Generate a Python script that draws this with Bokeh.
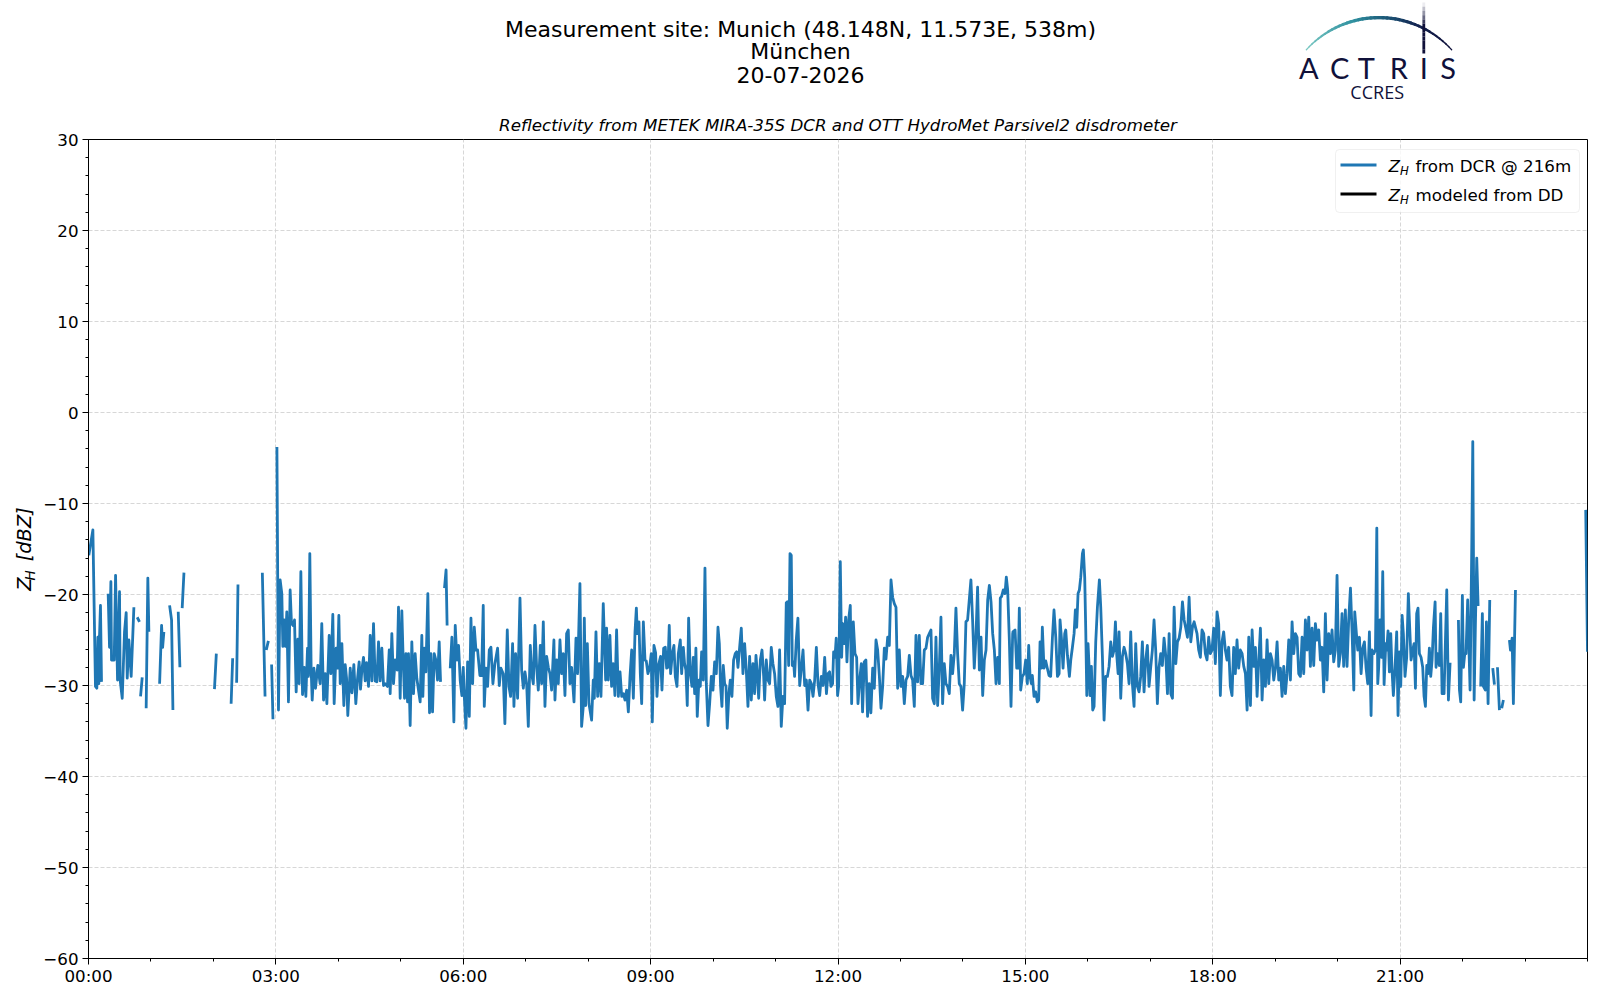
import math
from bokeh.plotting import figure
from bokeh.layouts import column, row
from bokeh.models import Range1d, FixedTicker, Label, BoxAnnotation, Arrow, ColumnDataSource, Title
from bokeh.core.properties import value
from bokeh.embed import file_html
from bokeh.resources import INLINE

# ---------------- data (minutes after 00:00 UTC, Z_H in dBZ; None = no data) -------------
dcr_0003 = [(0.3, -15.7), (4.2, -12.9), (6.7, -30.1), (8.0, -30.3), (9.0, -24.7), (9.9, -29.8),
            (10.6, -24.5), (11.5, -21.2), (12.5, -29.6), (15, None),
            (18.9, -19.9), (20.2, -25.8), (21.5, -18.6), (22.1, -27.2), (24.7, -27.2), (26.0, -17.9),
            (27.9, -29.4), (29.8, -19.7), (30.4, -29.4), (32.4, -31.4), (34.6, -24.1), (36.2, -22.0),
            (37.2, -29.2), (38.8, -25.0), (41.0, -29.0), (43.6, -21.4), (45, None),
            (46.8, -22.5), (49.0, -23.0), (49.5, None),
            (50.0, -31.2), (51.6, -29.1), (53, None),
            (55.4, -32.5), (57.0, -18.2), (58.0, -24.1), (60, None),
            (68.3, -29.8), (70.2, -23.4), (71.2, -25.8), (72.4, -24.1), (75, None),
            (77.9, -21.2), (79.8, -22.8), (81.1, -32.7), (84, None),
            (86.2, -21.9), (87.8, -28.0), (89, None),
            (90.0, -21.5), (91.7, -17.6), (100, None),
            (121.0, -30.4), (122.8, -26.5), (130, None),
            (137.0, -32.0), (138.5, -27.0), (140, None),
            (142.3, -29.7), (143.6, -18.9), (150, None),
            (167.0, -17.6), (169.6, -31.2), (170.2, None),
            (170.8, -26.1), (172.8, -25.1), (174, None),
            (175.9, -27.7), (177.2, -33.7), (179, None)]

dcr_0306 = [(181.0, -3.8), (182.5, -32.7), (184.1, -18.4), (185.7, -19.9), (186.7, -25.7), (188.0, -22.8),
            (189.2, -25.7), (190.5, -21.9), (192.1, -31.8), (193.7, -19.5), (195.0, -23.2), (196.6, -23.4),
            (197.9, -22.8), (199.5, -30.7), (201.1, -24.9), (202.4, -29.8), (204.0, -17.5), (205.6, -31.0),
            (207.2, -28.0), (208.8, -31.2), (210.4, -25.9), (211.3, -29.0), (212.6, -15.5), (213.9, -28.3),
            (214.9, -31.6), (216.5, -28.1), (218.1, -30.3), (220.3, -27.8), (222.5, -29.8), (224.1, -23.2),
            (225.8, -31.6), (227.4, -28.7), (229.0, -32.0), (231.2, -24.5), (232.8, -28.7), (234.7, -22.2),
            (236.0, -32.0), (237.9, -25.9), (239.2, -28.1), (240.5, -22.3), (241.8, -29.8), (243.4, -25.4),
            (245.3, -32.2), (246.6, -27.7), (247.9, -29.2), (249.1, -33.3), (251.4, -28.1), (253.0, -30.8),
            (254.9, -27.7), (256.8, -32.0), (258.4, -29.3), (260.0, -27.4), (261.3, -30.4), (262.6, -28.3),
            (264.2, -26.9), (265.8, -29.5), (267.1, -27.5), (269.0, -30.1), (270.6, -24.5), (272.2, -29.5),
            (273.8, -23.2), (275.4, -29.5), (277.0, -29.6), (278.6, -25.2), (280.2, -29.5), (281.8, -25.9),
            (283.4, -30.0), (285.0, -29.8), (287.2, -30.1), (288.9, -26.1), (289.8, -30.9), (291.4, -24.3),
            (293.0, -29.8), (294.6, -27.2), (296.5, -28.3), (297.8, -21.4), (299.4, -31.4), (301.0, -21.8),
            (302.3, -27.2), (303.6, -31.4), (304.9, -26.5), (306.5, -31.8), (307.4, -26.5), (309.0, -34.4),
            (310.6, -25.2), (312.2, -30.9), (313.8, -26.5), (315.4, -29.2), (318.6, -31.8), (320.2, -24.5),
            (321.2, -31.2), (322.5, -25.9), (324.1, -28.5), (326.0, -19.9), (327.6, -33.0), (328.9, -26.5),
            (330.5, -32.9), (332.1, -26.5), (333.7, -27.2), (335.3, -29.4), (336.9, -25.2), (338.2, -29.6),
            (340, None), (342.0, -19.3), (343.5, -17.3), (344.5, -23.4), (346, None),
            (347.5, -28.1), (349.1, -24.7), (351.0, -34.0), (352.3, -23.4), (353.9, -27.2), (355.5, -25.6),
            (357.1, -29.5), (358.7, -31.1)]

dcr_0609 = [(360.0, -28.0), (361.0, -31.2), (362.6, -34.7), (364.2, -27.4), (365.8, -33.4), (367.4, -22.6),
            (369.0, -29.8), (370.6, -23.6), (372.2, -26.1), (373.8, -26.1), (376.0, -28.9), (377.6, -28.9),
            (379.2, -21.2), (380.2, -32.3), (381.8, -28.1), (383.4, -30.1), (385.0, -26.1), (386.6, -25.8),
            (388.5, -29.8), (390.4, -27.6), (393.0, -25.9), (394.6, -30.0), (396.2, -28.1), (398.4, -28.7),
            (400.0, -34.2), (402.3, -23.9), (403.9, -30.1), (405.5, -31.2), (407.4, -25.4), (408.7, -32.3),
            (410.3, -26.5), (412.2, -31.4), (414.5, -20.4), (416.1, -28.3), (417.7, -30.3), (419.3, -28.5),
            (420.9, -29.8), (422.5, -34.5), (424.4, -25.6), (425.7, -28.7), (427.3, -29.8), (428.9, -23.4),
            (430.5, -28.0), (432.1, -30.5), (434.0, -25.6), (435.3, -29.8), (436.9, -23.0), (438.5, -32.3),
            (440.1, -26.8), (441.7, -28.0), (443.3, -28.7), (444.9, -30.5), (447.1, -25.0), (448.1, -31.6),
            (449.7, -27.2), (451.3, -29.8), (452.9, -25.0), (454.5, -28.7), (456.1, -26.5), (457.7, -31.1),
            (459.3, -24.3), (460.9, -23.9), (462.5, -29.8), (464.1, -28.0), (466.4, -31.8), (468.3, -24.8),
            (469.9, -28.7), (472.1, -18.8), (473.7, -34.5), (475.3, -32.3), (476.3, -22.6), (477.6, -32.2),
            (479.2, -25.4), (480.8, -32.0), (483.3, -33.8), (484.9, -29.4), (485.9, -31.4), (487.5, -24.1),
            (489.1, -31.2), (490.7, -27.6), (492.3, -31.2), (494.5, -21.0), (496.8, -29.4), (497.7, -23.7),
            (499.3, -29.4), (500.9, -24.5), (502.5, -30.1), (504.1, -27.6), (505.7, -31.1), (507.3, -23.9),
            (509.0, -31.2), (510.6, -28.5), (512.2, -31.2), (513.8, -30.9), (515.4, -31.6), (517.0, -30.5),
            (518.6, -32.9), (520.2, -29.0), (521.8, -26.1), (523.4, -31.4), (525.0, -24.1), (526.3, -21.5),
            (527.2, -24.3), (528.8, -23.0), (530.1, -28.7), (531.4, -32.0), (533.0, -23.0), (534.6, -27.2)]

dcr_0912 = [(535.8, -27.3), (537.4, -28.7), (539.0, -28.1), (540.6, -26.5), (541.6, -34.0), (543.2, -25.6),
            (544.8, -26.4), (546.1, -31.2), (547.7, -27.7), (549.6, -26.8), (550.9, -30.5), (552.5, -25.9),
            (554.1, -25.8), (555.4, -28.1), (556.6, -28.0), (557.9, -23.4), (559.2, -28.7), (560.8, -26.5),
            (562.4, -25.6), (563.7, -29.0), (565.3, -30.1), (566.6, -26.5), (568.5, -25.0), (569.8, -28.7),
            (571.4, -25.8), (572.6, -27.6), (573.9, -28.3), (575.2, -32.2), (576.5, -22.6), (578.1, -28.7),
            (579.7, -30.1), (581.0, -26.9), (582.3, -30.9), (583.5, -25.9), (584.8, -33.4), (586.4, -29.4),
            (587.7, -30.1), (589.0, -26.3), (590.6, -29.4), (592.2, -17.1), (593.5, -29.8), (595.1, -34.4),
            (596.7, -32.0), (598.3, -29.0), (599.9, -30.5), (601.5, -27.4), (603.1, -28.7), (604.7, -23.6),
            (606.0, -25.4), (607.2, -30.1), (608.5, -32.3), (609.8, -27.8), (611.1, -29.8), (612.4, -30.1),
            (613.6, -34.7), (615.2, -30.9), (616.5, -29.4), (618.1, -31.2), (619.7, -27.2), (621.3, -26.5),
            (622.6, -26.3), (623.9, -28.0), (625.5, -25.8), (627.1, -23.7), (628.7, -28.7), (630.3, -25.4),
            (631.9, -28.3), (633.5, -32.3), (635.1, -26.8), (636.7, -31.6), (638.3, -27.6), (639.9, -30.9),
            (641.2, -26.7), (642.5, -28.7), (643.8, -31.4), (645.4, -27.2), (647.0, -26.1), (648.6, -29.0),
            (649.5, -31.6), (651.1, -27.2), (652.7, -29.4), (654.3, -29.8), (655.9, -25.8), (657.5, -27.6),
            (659.1, -28.7), (660.7, -31.2), (662.3, -32.3), (663.9, -26.1), (665.5, -34.5), (667.1, -31.2),
            (668.7, -32.0), (670.3, -20.9), (671.3, -20.8), (672.6, -27.8), (673.9, -15.5), (675.1, -15.7),
            (676.1, -27.8), (677.4, -27.4), (678.3, -29.0), (679.9, -25.0), (681.5, -22.6), (683.2, -30.0),
            (684.8, -28.1), (686.4, -26.1), (688.0, -30.0), (689.6, -29.4), (691.2, -32.7), (692.8, -29.4),
            (694.4, -29.8), (696.0, -31.2), (697.6, -29.4), (699.2, -25.8), (700.8, -29.8), (702.4, -31.1),
            (704.0, -29.0), (705.6, -30.0), (707.2, -26.9), (708.9, -30.9), (710.4, -28.7)]

dcr_1215 = [(711.9, -28.5), (713.2, -30.1), (714.8, -29.8), (715.8, -26.3), (717.1, -26.9), (718.3, -24.8),
            (719.6, -31.1), (720.6, -30.1), (722.2, -16.4), (723.5, -26.9), (724.4, -23.2), (726.0, -25.4),
            (727.3, -22.5), (728.6, -27.4), (730.2, -22.8), (731.8, -21.2), (733.1, -32.0), (734.7, -23.0),
            (736.3, -26.5), (737.9, -26.9), (739.2, -32.0), (740.8, -29.4), (742.4, -27.6), (743.6, -32.9),
            (745.2, -27.4), (746.8, -27.2), (748.4, -33.4), (750.0, -29.8), (751.6, -33.0), (753.3, -28.1),
            (754.9, -30.3), (756.5, -25.0), (758.1, -26.1), (759.7, -28.9), (761.3, -32.5), (762.9, -30.1),
            (764.5, -25.9), (766.1, -27.1), (767.7, -24.7), (769.3, -25.6), (770.9, -18.4), (772.5, -20.3),
            (774.1, -21.0), (775.7, -21.4), (777.3, -30.3), (778.9, -26.1), (780.5, -30.1), (782.1, -29.0),
            (783.7, -32.0), (785.3, -29.4), (786.9, -29.0), (788.5, -26.7), (790.1, -28.9), (791.7, -29.4),
            (793.3, -32.3), (794.9, -24.5), (796.5, -29.6), (798.1, -24.5), (799.7, -29.8), (801.3, -29.8),
            (802.9, -26.1), (804.5, -25.9), (806.1, -24.7), (807.7, -24.3), (809.3, -23.9), (810.9, -31.4),
            (812.5, -32.0), (814.1, -24.7), (815.7, -32.2), (817.3, -28.1), (818.9, -22.5), (820.5, -32.0),
            (822.1, -27.6), (823.7, -29.8), (825.3, -30.1), (826.9, -30.9), (828.5, -26.7), (830.1, -28.7),
            (831.7, -26.5), (833.3, -21.5), (834.9, -26.5), (836.5, -29.8), (838.1, -30.1), (839.7, -32.7),
            (841.3, -29.8), (842.9, -23.0), (844.5, -22.8), (846.1, -20.6), (847.7, -18.4), (849.3, -22.8),
            (850.9, -28.1), (852.5, -24.7), (854.1, -19.2), (855.8, -28.3), (857.4, -24.7), (859.0, -31.1),
            (860.6, -27.2), (862.2, -26.1), (863.8, -20.6), (865.4, -19.0), (867.0, -20.8), (868.6, -24.3),
            (870.2, -26.1), (871.8, -29.8), (873.4, -26.9), (875.0, -29.8), (875.9, -20.4), (877.2, -20.2),
            (878.8, -19.5), (880.4, -19.9), (881.7, -18.1), (883.0, -19.5), (884.6, -25.0), (886.2, -32.3),
            (887.8, -24.3)]

dcr_1518 = [(888.1, -24.1), (890.1, -23.9), (891.7, -28.1), (893.0, -28.1), (894.2, -21.5), (895.5, -30.5),
            (897.1, -29.0), (898.7, -28.7), (900.3, -27.2), (901.9, -29.8), (903.2, -25.6), (904.5, -29.0),
            (905.8, -29.8), (906.7, -28.9), (908.3, -31.2), (909.9, -30.7), (911.5, -31.8), (912.8, -31.6),
            (914.1, -25.2), (915.4, -28.1), (916.3, -23.6), (917.9, -28.1), (919.5, -27.3), (921.1, -28.1),
            (922.7, -28.9), (924.3, -29.0), (926.0, -24.7), (927.5, -21.7), (929.2, -24.7), (930.8, -29.0),
            (932.4, -28.7), (933.3, -22.8), (934.6, -24.7), (936.2, -28.1), (937.8, -24.3), (938.8, -23.9),
            (940.4, -26.7), (942.3, -29.0), (943.6, -27.2), (945.2, -25.8), (946.8, -24.3), (948.0, -21.7),
            (949.3, -23.6), (950.6, -19.9), (951.9, -19.5), (953.2, -18.1), (954.8, -15.5), (955.7, -15.1),
            (957.0, -18.1), (958.0, -23.9), (959.0, -31.1), (960.2, -25.4), (961.2, -27.9), (962.1, -31.1),
            (963.4, -27.9), (964.7, -32.7), (966.0, -32.3), (967.6, -25.2), (969.2, -21.4), (971.1, -18.4),
            (972.4, -21.4), (974.0, -26.8), (975.6, -33.8), (977.2, -29.0), (978.8, -29.0), (980.4, -27.9),
            (982.0, -25.2), (983.6, -26.8), (985.2, -26.1), (986.5, -23.0), (987.8, -26.7), (989.1, -28.7),
            (990.0, -24.1), (991.6, -31.4), (993.2, -26.8), (994.8, -25.8), (996.4, -26.5), (998.0, -27.6),
            (999.6, -29.8), (1001.2, -24.1), (1002.8, -29.8), (1004.4, -32.3), (1006.0, -25.4), (1007.6, -30.1),
            (1009.2, -30.7), (1010.8, -29.0), (1012.4, -25.2), (1014.0, -30.7), (1015.6, -27.2), (1017.2, -25.6),
            (1018.8, -30.1), (1020.4, -28.0), (1022.0, -26.1), (1023.6, -22.8), (1025.2, -26.1), (1026.8, -32.0),
            (1028.4, -28.0), (1030.0, -26.5), (1031.6, -27.8), (1033.2, -24.8), (1034.9, -26.8), (1036.5, -30.9),
            (1038.1, -24.3), (1039.7, -30.9), (1041.3, -31.4), (1042.9, -21.4), (1044.5, -27.6), (1046.1, -25.2),
            (1047.7, -24.8), (1049.3, -23.6), (1050.9, -20.8), (1052.5, -22.8), (1054.1, -23.7), (1055.7, -24.7),
            (1057.3, -20.3), (1058.9, -25.2), (1060.5, -23.6), (1062.1, -23.0)]

dcr_1821 = [(1064.9, -24.3), (1066.5, -26.1), (1068.1, -26.9), (1069.7, -23.9), (1071.3, -24.3), (1072.9, -26.5),
            (1074.5, -27.2), (1076.1, -24.7), (1077.7, -26.5), (1079.3, -26.1), (1080.9, -23.7), (1082.5, -27.6),
            (1084.1, -21.9), (1085.7, -23.2), (1087.3, -31.1), (1088.9, -25.2), (1090.5, -24.1), (1092.1, -26.1),
            (1093.7, -27.2), (1095.3, -25.8), (1096.9, -30.1), (1098.5, -31.1), (1100.1, -25.8), (1101.7, -28.7),
            (1103.3, -25.0), (1104.9, -28.1), (1106.5, -26.1), (1108.2, -26.5), (1109.8, -27.9), (1111.4, -28.7),
            (1113.0, -32.7), (1114.6, -24.7), (1116.2, -32.2), (1117.8, -23.9), (1119.4, -27.9), (1121.0, -25.8),
            (1122.6, -31.2), (1124.2, -27.2), (1125.8, -23.7), (1127.4, -31.6), (1129.0, -27.2), (1130.6, -30.1),
            (1132.2, -25.0), (1133.8, -29.8), (1135.4, -26.5), (1137.0, -27.2), (1138.6, -29.4), (1140.2, -28.1),
            (1141.8, -25.2), (1143.4, -29.4), (1145.0, -28.1), (1146.6, -31.2), (1148.2, -27.9), (1149.8, -30.9),
            (1151.4, -28.7), (1153.0, -25.0), (1154.6, -29.4), (1156.2, -23.0), (1157.8, -26.5), (1159.4, -24.3),
            (1161.0, -24.7), (1162.6, -28.7), (1164.2, -29.0), (1165.8, -24.7), (1167.4, -28.7), (1169.0, -22.8),
            (1170.6, -26.1), (1172.2, -22.5), (1173.8, -27.9), (1175.4, -23.7), (1177.0, -27.8), (1178.6, -23.2),
            (1180.2, -25.0), (1181.8, -23.9), (1183.4, -27.2), (1185.0, -25.8), (1186.6, -30.7), (1188.2, -22.1),
            (1189.8, -29.4), (1191.4, -24.3), (1193.0, -26.5), (1194.6, -23.9), (1196.2, -27.4), (1197.8, -26.1),
            (1199.4, -17.9), (1201.0, -27.9), (1202.6, -26.5), (1204.2, -22.1), (1205.8, -27.9), (1207.4, -21.7),
            (1209.0, -27.9), (1210.6, -22.8), (1212.3, -19.3), (1213.9, -24.3), (1215.5, -30.5), (1216.4, -21.9),
            (1218.0, -24.3), (1219.3, -26.1), (1220.9, -24.7), (1222.5, -28.7), (1224.1, -25.9), (1225.7, -25.2),
            (1227.3, -28.1), (1228.9, -29.8), (1230.5, -24.1), (1232.1, -33.3), (1233.1, -26.1), (1234.7, -26.5),
            (1236.3, -26.1), (1237.6, -12.7), (1238.5, -29.8)]

dcr_2124 = [(1239.4, -28.0), (1240.7, -22.8), (1242.0, -26.9), (1243.3, -17.5), (1244.6, -29.9), (1246.2, -25.4),
            (1247.1, -26.1), (1248.4, -24.0), (1249.7, -28.5), (1251.0, -24.3), (1252.2, -28.3), (1253.5, -31.1),
            (1255.1, -28.1), (1256.7, -24.1), (1258.0, -33.3), (1259.3, -26.3), (1260.6, -30.1), (1261.9, -22.3),
            (1263.1, -24.3), (1264.7, -29.0), (1266.3, -26.9), (1267.9, -19.9), (1268.9, -22.8), (1270.5, -27.2),
            (1272.1, -26.1), (1273.4, -25.4), (1274.7, -30.3), (1275.9, -22.1), (1277.2, -21.5), (1278.5, -26.5),
            (1280.1, -26.9), (1281.7, -28.0), (1283.0, -31.2), (1284.3, -32.3), (1285.6, -27.8), (1286.8, -28.7),
            (1288.1, -25.9), (1289.4, -29.0), (1290.7, -27.2), (1292.0, -23.6), (1293.6, -20.8), (1294.5, -28.0),
            (1295.8, -26.5), (1297.7, -27.8), (1299.0, -22.1), (1300.3, -30.9), (1302.2, -30.9), (1304.8, -19.5),
            (1306.4, -31.6), (1308.0, -27.5), (1310, None),
            (1316.0, -22.8), (1317.0, -30.5), (1318.2, -31.8), (1319.8, -20.1), (1320.8, -28.0), (1322.1, -26.5),
            (1323.3, -26.5), (1324.9, -20.6), (1327.2, -30.5), (1328.8, -14.9), (1329.8, -3.2), (1330.4, -14.8),
            (1331.1, -31.6), (1332.3, -23.4), (1333.6, -16.0), (1334.9, -21.1), (1336.2, -21.1), (1336.8, None),
            (1337.4, -30.1), (1339.0, -22.1), (1340.0, -30.1), (1341.9, -30.5), (1342.9, -23.0), (1344.5, -32.0),
            (1346.1, -20.6), (1347, None),
            (1349.0, -28.1), (1350.6, -29.9), (1352, None),
            (1353.5, -28.0), (1355.4, -32.7), (1356.5, None),
            (1357.6, -32.5), (1359.2, -31.6), (1362, None),
            (1365.0, -25.0), (1366.0, -26.1), (1367.6, -24.8), (1368.8, -32.0), (1370.8, -19.5), (1380, None),
            (1438.3, -10.7), (1440.0, -26.3)]

# The disdrometer-modelled reflectivity has no values on this day
dd_minutes = []
dd_dbz = []

hour_ticks = [0, 3, 6, 9, 12, 15, 18, 21]
hour_labels = ["00:00", "03:00", "06:00", "09:00", "12:00", "15:00", "18:00", "21:00"]
dbz_ticks = [-60, -50, -40, -30, -20, -10, 0, 10, 20, 30]
dbz_labels = ["\u221260", "\u221250", "\u221240", "\u221230", "\u221220", "\u221210", "0", "10", "20", "30"]

title_lines = ["Measurement site: Munich (48.148N, 11.573E, 538m)", "M\u00fcnchen", "20-07-2026"]
subtitle = "Reflectivity from METEK MIRA-35S DCR and OTT HydroMet Parsivel2 disdrometer"

# ---------------- build series -------------
def unpack(blocks):
    xs, ys = [], []
    for blk in blocks:
        for t, z in blk:
            xs.append(t / 60.0)
            ys.append(float("nan") if z is None else z)
    return xs, ys

dcr_h, dcr_z = unpack([dcr_0003, dcr_0306, dcr_0609, dcr_0912, dcr_1215, dcr_1518, dcr_1821, dcr_2124])

FONT = "DejaVu Sans"
BLUE = "#1f77b4"
NAVY = "#10113a"

HEAD_H = 108       # header strip height (page px): main titles + logo
TOTAL_W = 1592
LAB_W = 40         # y-label strip width

# ================= header strip: titles + logo (coordinates = page pixels) =================
head = figure(width=TOTAL_W, height=HEAD_H, x_range=Range1d(0, TOTAL_W), y_range=Range1d(HEAD_H, 0),
              x_axis_type=None, y_axis_type=None, toolbar_location=None, output_backend="svg",
              min_border=0, outline_line_color=None, background_fill_color="white",
              border_fill_color="white")
head.text(x=[800, 800, 800], y=[29, 50.6, 74], text=title_lines, text_align="center",
          text_baseline="middle", text_font=value(FONT), text_font_size=value("22px"), text_color="black")

def lerp_color(f):
    stops = [(0.0, (125, 202, 196)), (0.35, (48, 145, 160)), (0.55, (28, 88, 120)),
             (0.75, (20, 35, 80)), (1.0, (16, 17, 58))]
    for (f0, c0), (f1, c1) in zip(stops[:-1], stops[1:]):
        if f <= f1:
            u = (f - f0) / (f1 - f0)
            c = [round(a + (b - a) * u) for a, b in zip(c0, c1)]
            return "#%02x%02x%02x" % tuple(c)
    return "#%02x%02x%02x" % stops[-1][1]

cx, cy, R = 1378.5, 115.2, 98.1
a0, a1 = math.radians(-47.8), math.radians(47.8)
nseg = 40
ax0, ay0, ax1, ay1, acol, awid = [], [], [], [], [], []
for i in range(nseg):
    f0, f1 = i / nseg, (i + 1) / nseg
    t0, t1 = a0 + (a1 - a0) * f0, a0 + (a1 - a0) * f1
    ax0.append(cx + R * math.sin(t0)); ay0.append(cy - R * math.cos(t0))
    ax1.append(cx + R * math.sin(t1)); ay1.append(cy - R * math.cos(t1))
    fm = (f0 + f1) / 2
    acol.append(lerp_color(fm))
    awid.append(1.2 + 2.2 * math.sin(math.pi * fm))
head.segment(x0=ax0, y0=ay0, x1=ax1, y1=ay1, line_color=acol, line_width=awid, line_cap="round")

nv = 12
vx, vy0s, vy1s, valpha = [], [], [], []
for i in range(nv):
    vx.append(1423.3)
    vy0s.append(2 + 51 * i / nv)
    vy1s.append(2 + 51 * (i + 1) / nv)
    valpha.append(min(1.0, 0.08 + 0.92 * (i / 5.0)))
head.segment(x0=vx, y0=vy0s, x1=vx, y1=vy1s, line_color=NAVY, line_alpha=valpha, line_width=2.8)

head.text(x=[1308.3, 1339.2, 1365.8, 1398.3, 1423.2, 1447.5], y=[66.5] * 6, text=list("ACTRIS"),
          text_align="center", text_baseline="middle", text_font=value("Lato"),
          text_font_size=value("29px"), text_color=NAVY)
head.text(x=[1376.7], y=[91.5], text=["CCRES"], text_align="center", text_baseline="middle",
          text_font=value("Open Sans"), text_font_size=value("18px"), text_color=NAVY)

# ================= main plot =================
TOP_B, BOT_B, LEFT_B, RIGHT_B = 139 - HEAD_H, 38, 88 - LAB_W, 5
FRAME_W, FRAME_H = 1499, 819
main_h = TOP_B + FRAME_H + BOT_B

p = figure(frame_width=FRAME_W, frame_height=FRAME_H, x_range=Range1d(0, 24), y_range=Range1d(-60, 30),
           output_backend="svg", toolbar_location=None,
           min_border_left=LEFT_B, min_border_right=RIGHT_B, min_border_top=TOP_B, min_border_bottom=BOT_B,
           background_fill_color="white", border_fill_color="white")
p.add_layout(Title(text=subtitle, align="center", text_font=FONT, text_font_style="italic",
                   text_font_size="16.7px", text_color="black", standoff=9), "above")

# page pixel -> data helpers (frame at page x=88, y=139) for legend layout
def hx(px):
    return (px - 88.0) / (FRAME_W / 24.0)

def vy(py):
    return 30.0 - (py - 139.0) / (FRAME_H / 90.0)

p.xaxis.ticker = FixedTicker(ticks=hour_ticks, minor_ticks=list(range(0, 25)))
p.xaxis.major_label_overrides = {t: l for t, l in zip(hour_ticks, hour_labels)}
p.yaxis.ticker = FixedTicker(ticks=dbz_ticks, minor_ticks=list(range(-60, 31, 2)))
p.yaxis.major_label_overrides = {t: l for t, l in zip(dbz_ticks, dbz_labels)}

for axis in (p.xaxis, p.yaxis):
    axis.axis_line_color = "black"
    axis.axis_line_width = 1
    axis.major_tick_line_color = "black"
    axis.minor_tick_line_color = "black"
    axis.major_tick_out = 6
    axis.major_tick_in = 0
    axis.minor_tick_out = 3
    axis.minor_tick_in = 0
    axis.major_label_text_font = FONT
    axis.major_label_text_font_size = "16.7px"
    axis.major_label_text_color = "black"
p.xaxis.major_label_standoff = 1
p.yaxis.major_label_standoff = 4

p.outline_line_color = "black"
p.outline_line_alpha = 1.0
p.outline_line_width = 1

p.grid.grid_line_color = "#d3d3d3"
p.grid.grid_line_dash = "4 2"
p.grid.grid_line_width = 0.9

src = ColumnDataSource(data=dict(t=dcr_h, z=dcr_z))
p.line("t", "z", source=src, line_color=BLUE, line_width=2.8, line_join="round")
dd_src = ColumnDataSource(data=dict(t=[m / 60.0 for m in dd_minutes], z=dd_dbz))
p.line("t", "z", source=dd_src, line_color="black", line_width=2.8)

# legend (drawn by hand so that Z_H gets a real subscript)
p.add_layout(BoxAnnotation(left=hx(1335), right=hx(1579), top=vy(149), bottom=vy(212),
                           fill_color="white", fill_alpha=0.8, line_color="#cccccc", line_width=1,
                           border_radius=4))
legend_rows = [(BLUE, "from DCR @ 216m", 164.5), ("black", "modeled from DD", 193.5)]
for color, txt, py in legend_rows:
    p.add_layout(Arrow(end=None, x_start=hx(1340), y_start=vy(py), x_end=hx(1376), y_end=vy(py),
                       line_color=color, line_width=2.8))
    p.add_layout(Label(x=hx(1388), y=vy(py + 0.5), text="Z", text_align="left", text_baseline="middle",
                       text_font=FONT, text_font_style="italic", text_font_size="16.7px", text_color="black"))
    p.add_layout(Label(x=hx(1399.5), y=vy(py + 5.5), text="H", text_align="left", text_baseline="middle",
                       text_font=FONT, text_font_style="italic", text_font_size="11.7px", text_color="black"))
    p.add_layout(Label(x=hx(1415), y=vy(py + 0.5), text=txt, text_align="left", text_baseline="middle",
                       text_font=FONT, text_font_size="16.7px", text_color="black"))

# ================= y-label strip (coordinates = page pixels) =================
ylab = figure(width=LAB_W, height=main_h, x_range=Range1d(0, LAB_W),
              y_range=Range1d(HEAD_H + main_h, HEAD_H),
              x_axis_type=None, y_axis_type=None, toolbar_location=None, output_backend="svg",
              min_border=0, outline_line_color=None, background_fill_color="white",
              border_fill_color="white")
ylab.text(x=[23.6, 23.6], y=[590, 536], text=["Z", "[dBZ]"], angle=math.pi / 2, text_align="center",
          text_baseline="middle", text_font=value(FONT), text_font_style="italic",
          text_font_size=value("19.4px"), text_color="black")
ylab.text(x=[29.3], y=[580.5], text=["H"], angle=math.pi / 2, text_align="center",
          text_baseline="middle", text_font=value(FONT), text_font_style="italic",
          text_font_size=value("13.6px"), text_color="black")

layout = column(head, row(ylab, p, spacing=0), spacing=0)
open("out.html", "w").write(file_html(layout, INLINE))
